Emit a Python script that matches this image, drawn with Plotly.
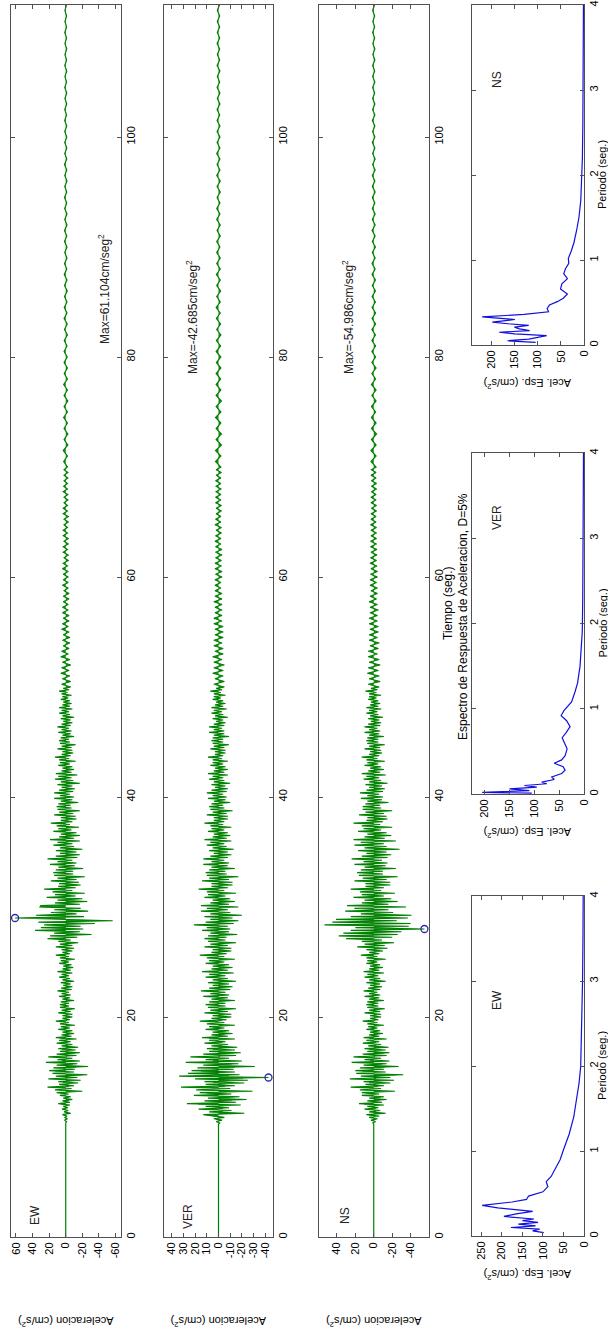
import plotly.graph_objects as go

W, H = 608, 1335

# ---------------- acceleration records (cm/s^2) ----------------
# strong: every 0.125 s from 10.125 s to 50 s (8 values per second)
# mid:    every 0.25 s from 50.25 s to 70 s
# tail:   every 0.5 s from 70.5 s to 112 s
ew_strong = [0, 0, 0, -1, 1.5, -2, 1, -1.5,
             4, -6, 2, -3, 4.5, -2.5, 3, -5,
             9, -5, 4, -8, 3, -6, 7, -3.5,
             11, -20, 13, -7, 22, -10, 8, -15,
             9, -18, 21, -14, 12, -26, 16, -10,
             20, -11, 15, -27, 11, -14, 24, -17,
             10, -8, 21, -13, 11, -17, 7, -12,
             9, -15, 5, -8, 11, -6, 8, -13,
             12, -7, 5, -10, 4, -8, 9, -5,
             6, -11, 7, -4, 12, -5, 4, -8,
             4, -8, 9, -6, 5, -11, 7, -4,
             7, -4, 6, -10, 4, -5, 8, -6,
             5, -4, 10, -7, 5.5, -8, 3, -6,
             6, -10, 4, -5, 8, -4, 5, -8,
             10, -6, 4, -9, 3, -7, 8, -4,
             6, -11, 7, -4, 12, -5, 4, -8,
             5, -10, 12, -8, 7, -15, 9, -6,
             22, -14, 19, -31, 14, -17, 37, -21,
             30, -18, 26, -35, 33, -56.6, -10, 61.104,
             -22, 36, -13, 18, -27, 14, -18, 31,
             30, -17, 13, -26, 10, -20, 23, -12,
             13, -23, 16, -8, 26, -12, 9, -18,
             8, -16, 18, -13, 10, -23, 14, -9,
             15, -9, 12, -21, 9, -11, 19, -13,
             10, -8, 22, -14, 12, -17, 7, -13,
             12, -20, 7, -10, 15, -8, 10, -17,
             19, -10, 8, -17, 6, -13, 15, -7,
             9, -16, 11, -5, 18, -8, 6, -13,
             6, -12, 14, -9, 8, -17, 10, -7,
             11, -6, 9, -15, 6, -8, 14, -10,
             7, -5, 14, -9, 8, -11, 5, -8,
             10, -17, 6, -9, 13, -7, 9, -14,
             12, -7, 5, -10, 4, -8, 9, -5,
             7, -12, 8, -4, 13, -6, 5, -9,
             4, -8, 10, -7, 5, -12, 7, -5,
             8, -4, 6, -10, 4, -6, 9, -7,
             5, -4, 10, -6, 5, -8, 3, -6,
             6, -10, 4, -5, 8, -4, 5, -8,
             8, -5, 4, -7, 3, -5, 6, -3,
             4, -7, 5, -2, 8, -4, 3, -6]
ew_mid = [5, -6, 4, -5, 6, -4, 5, -6, 4, -5, 6, -3, 5, -4, 3, -5, 4, -5, 3, -4,
          5, -3, 4, -4, 3, -4, 4, -3, 4, -3, 3, -4, 3, -4, 2, -3, 4, -3, 3, -3,
          3, -3, 4, -2, 3, -3, 2, -3, 3, -2, 3, -3, 2, -3, 3, -2, 3, -2, 2, -3,
          2, -3, 3, -2, 3, -2, 2, -2.5, 2, -2.5, 3, -2, 2.5, -2, 2, -2.5, 2, -2.5, 2, -2]
ew_tail = [2.5, -2, 3, -2.5, 2, -2.5, 2, -2, 2.5, -2,
           2, -2.5, 2, -2, 2.5, -2, 1.8, -2, 2, -1.8,
           2, -1.5, 1.8, -2, 1.5, -1.8, 2, -1.5, 1.8, -1.5,
           1.5, -1.8, 1.5, -1.5, 1.8, -1.2, 1.5, -1.5, 1.2, -1.5,
           1.5, -1.2, 1.5, -1.5, 1.2, -1.5, 1.3, -1.2, 1.5, -1.2,
           1.2, -1.5, 1.2, -1.2, 1.5, -1.2, 1.2, -1.3, 1.2, -1.2,
           1.2, -1.2, 1.3, -1, 1.2, -1.2, 1, -1.2, 1.2, -1,
           1, -1.2, 1.2, -1, 1, -1.2, 1, -1, 1.2, -1,
           1, -1, 1, -0.8]

ver_strong = [0, 0, -1, 2, -3, 4, -5, 6,
              13, -22, 8, -11, 17, -9, 11, -19,
              27, -15, 12, -24, 9, -18, 21, -11,
              16, -29, 19, -10, 32, -14, 11, -22,
              12, -25, 20, -42.685, 33.6, -18, 26, -14,
              23, -13, 18, -31, 13, -17, 28, -20,
              11, -9, 24, -15, 13, -19, 8, -14,
              10, -16, 6, -8, 12, -6, 8, -14,
              14, -8, 6, -12, 5, -9, 11, -5,
              8, -14, 10, -5, 16, -7, 6, -11,
              5, -11, 12, -8, 7, -15, 9, -6,
              11, -6, 8, -14, 6, -8, 13, -9,
              7, -6, 15, -10, 8, -12, 5, -9,
              9, -15, 5, -8, 11, -6, 8, -13,
              14, -8, 6, -12, 5, -9, 11, -5,
              8, -14, 10, -5, 16, -7, 6, -11,
              5, -11, 12, -8, 7, -15, 9, -6,
              12, -7, 9, -16, 7, -9, 14, -10,
              10, -8, 21, -13, 11, -17, 7, -12,
              12, -20, 7, -10, 15, -8, 10, -17,
              15, -9, 7, -14, 5, -10, 12, -6,
              9, -15, 10, -5, 17, -8, 6, -12,
              6, -12, 14, -9, 8, -17, 10, -7,
              11, -6, 8, -14, 6, -8, 13, -9,
              6, -5, 13, -8, 7, -11, 4, -8,
              8, -13, 5, -7, 10, -5, 7, -11,
              12, -7, 5, -10, 4, -8, 9, -5,
              6, -11, 7, -4, 12, -5, 4, -8,
              4, -8, 10, -7, 5, -12, 7, -5,
              8, -4, 6, -10, 4, -6, 9, -7,
              5, -4, 10, -7, 6, -8, 3, -6,
              6, -10, 4, -5, 8, -4, 5, -8,
              9, -5, 4, -8, 3, -6, 7, -4,
              5, -8, 5, -3, 9, -4, 3, -6,
              3, -6, 7, -5, 4, -9, 5, -4,
              6, -4, 5, -9, 4, -5, 8, -5,
              4, -3, 8, -5, 4, -6, 2, -4,
              5, -8, 3, -4, 6, -3, 4, -7,
              6, -4, 3, -6, 2, -4, 5, -2,
              4, -6, 4, -2, 7, -3, 2, -5]
ver_mid = [4, -5, 3, -4, 5, -4, 4, -5, 4, -3, 5, -4, 3, -4, 4, -3, 4, -4, 3, -4,
           3, -4, 4, -3, 4, -3, 3, -3, 3, -3, 4, -3, 3, -3, 3, -2, 3, -2, 3, -3,
           2.5, -3, 3, -2.5, 3, -2.5, 2.5, -3, 2.5, -3, 2.5, -2, 3, -2, 2.5, -2.5, 2, -2.5, 3, -2,
           2.5, -2, 2, -2.5, 2, -2.5, 2.5, -2, 2.5, -2, 2, -2, 2, -2, 2.5, -2, 2, -2.5, 2, -2]
ver_tail = [2.5, -2, 2.5, -2.5, 2, -2.5, 2, -2, 2.5, -2,
            2, -2.5, 2, -2, 2, -1.8, 2, -2, 1.8, -2,
            2, -1.8, 1.8, -2, 1.5, -1.8, 1.8, -1.5, 2, -1.5,
            1.5, -1.8, 1.5, -1.5, 1.8, -1.5, 1.5, -1.5, 1.5, -1.2,
            1.5, -1.5, 1.2, -1.5, 1.5, -1.2, 1.5, -1.2, 1.2, -1.5,
            1.2, -1.5, 1.5, -1.2, 1.2, -1.2, 1.5, -1.2, 1.2, -1.2,
            1.2, -1.2, 1.2, -1, 1.2, -1.2, 1, -1.2, 1.2, -1,
            1, -1.2, 1.2, -1, 1, -1, 1.2, -1, 1, -1,
            1, -1, 1, -0.8]

ns_strong = [0, 0, 1, -2, 3, -4, 5, -6,
             8, -13, 5, -7, 10, -5, 7, -11,
             16, -9, 7, -14, 5, -11, 13, -6,
             13, -23, 15, -8, 25, -11, 9, -18,
             11, -22, 26, -18, 14, -32, 19, -13,
             20, -11, 15, -27, 11, -14, 24, -17,
             10, -8, 22, -14, 12, -17, 7, -13,
             10, -16, 6, -8, 12, -6, 8, -14,
             11, -6, 5, -10, 4, -7, 8, -4,
             6, -11, 7, -4, 12, -5, 4, -8,
             4, -8, 10, -7, 5, -12, 7, -5,
             8, -5, 7, -11, 5, -6, 10, -7,
             5, -4, 11, -7, 6, -9, 4, -7,
             8, -13, 5, -7, 10, -5, 7, -11,
             11, -6, 5, -10, 4, -7, 8, -4,
             7, -13, 8, -4, 14, -6, 5, -10,
             8, -15, 18, -12, 10, -22, 13, -9,
             30, -20, 38, -26, 33, -30, 25, -54.986,
             20, -38, 53.5, -40, 45, -25, 41, -37,
             25, -41, 14, -21, 31, -16, 21, -35,
             29, -16, 13, -26, 10, -19, 22, -11,
             13, -23, 15, -8, 25, -11, 9, -18,
             9, -18, 21, -14, 12, -26, 16, -10,
             18, -10, 14, -24, 10, -13, 21, -15,
             11, -9, 24, -15, 13, -19, 8, -14,
             17, -28, 10, -14, 21, -11, 14, -24,
             22, -12, 10, -19, 7, -14, 17, -8,
             11, -20, 13, -7, 22, -10, 8, -15,
             7, -14, 16, -11, 9, -20, 12, -8,
             12, -7, 9, -16, 7, -9, 14, -10,
             7, -6, 15, -10, 8, -12, 5, -9,
             9, -15, 5, -8, 11, -6, 8, -13,
             13, -7, 6, -11, 4, -8, 10, -5,
             7, -12, 8, -4, 13, -6, 5, -9,
             4, -8, 10, -7, 5, -12, 7, -5,
             8, -5, 7, -11, 5, -6, 10, -7,
             5, -4, 10, -7, 6, -8, 3, -6,
             6, -10, 4, -5, 8, -4, 5, -8,
             8, -5, 4, -7, 3, -5, 6, -3,
             5, -8, 5, -3, 9, -4, 3, -6]
ns_mid = [6, -7, 5, -6, 7, -5, 6, -7, 5, -6, 6, -4, 6, -5, 4, -6, 5, -4, 5, -5,
          4, -5, 5, -4, 5, -4, 4, -5, 4, -4, 5, -3, 4, -4, 3, -4, 4, -3, 4, -4,
          3.5, -4, 3, -3.5, 4, -3, 3.5, -3.5, 3, -3.5, 3.5, -3, 3.5, -3, 3, -3, 3, -3, 3.5, -2.5,
          3, -2.5, 3, -3, 2.5, -3, 3, -2.5, 3, -2.5, 2.5, -3, 2.5, -3, 2.5, -2.5, 3, -2.5, 2.5, -2.5]
ns_tail = [3, -2.5, 3, -2.5, 2.5, -3, 2.5, -2.5, 2.5, -2,
           2.5, -2.5, 2, -2.5, 2.5, -2, 2, -2.5, 2, -2,
           2, -2, 2, -1.8, 2, -2, 1.8, -2, 1.8, -1.8,
           1.8, -1.8, 1.5, -1.8, 1.8, -1.5, 1.8, -1.5, 1.5, -1.8,
           1.5, -1.5, 1.8, -1.5, 1.5, -1.5, 1.5, -1.2, 1.5, -1.5,
           1.5, -1.2, 1.5, -1.5, 1.2, -1.5, 1.2, -1.2, 1.5, -1.2,
           1.2, -1.2, 1.5, -1.2, 1.2, -1.2, 1.2, -1, 1.2, -1.2,
           1.2, -1, 1.2, -1.2, 1, -1.2, 1, -1, 1.2, -1,
           1, -1, 1.2, -0.8]

# peak values and times
ew_max, ew_tmax = 61.104, 29.0
ver_max, ver_tmax = -42.685, 14.5
ns_max, ns_tmax = -54.986, 28.0

# ---------------- response spectra (cm/s^2 vs period s) ----------------
ew_T = [0.04, 0.06, 0.08, 0.10, 0.12, 0.14, 0.16, 0.18, 0.20, 0.23, 0.26, 0.29, 0.33, 0.36, 0.40, 0.43, 0.47,
        0.52, 0.58, 0.64, 0.70, 0.75, 0.80, 0.90, 1.0, 1.2, 1.4, 1.6, 1.8, 2.0, 2.5, 3.0, 3.5, 4.0]
ew_S = [98, 125, 108, 178, 118, 160, 112, 150, 122, 195, 165, 125, 210, 248, 175, 140, 135,
        100, 88, 92, 80, 75, 68, 58, 51, 36, 25, 18, 12, 8, 5, 3.5, 2.5, 2]
ver_T = [0.01, 0.02, 0.04, 0.06, 0.08, 0.10, 0.12, 0.14, 0.17, 0.20, 0.24, 0.28, 0.32, 0.36, 0.40, 0.45, 0.53,
         0.60, 0.66, 0.72, 0.79, 0.86, 0.92, 0.98, 1.08, 1.2, 1.3, 1.5, 1.7, 1.9, 2.3, 3.0, 4.0]
ver_S = [105, 205, 110, 150, 95, 120, 75, 85, 60, 65, 45, 38, 42, 60, 45, 38, 34,
         40, 44, 36, 28, 35, 46, 40, 25, 18, 13, 8, 5, 3.5, 2.5, 1.5, 1]
ns_T = [0.03, 0.05, 0.07, 0.09, 0.11, 0.13, 0.15, 0.17, 0.19, 0.21, 0.23, 0.25, 0.27, 0.30, 0.33, 0.36, 0.39,
        0.43, 0.47, 0.51, 0.55, 0.60, 0.66, 0.72, 0.78, 0.84, 0.90, 0.96, 1.02, 1.1, 1.2, 1.35, 1.5, 1.7, 1.9,
        2.2, 2.6, 3.0, 3.5, 4.0]
ns_S = [105, 166, 120, 95, 81, 150, 184, 118, 140, 151, 120, 165, 199, 150, 221, 130, 77,
        80, 75, 58, 45, 36, 51, 48, 36, 44, 40, 33, 34, 28, 22, 16, 11, 7, 5,
        3.5, 2.5, 2, 1.5, 1.2]

components = ["EW", "VER", "NS"]
acc_ticks = {"EW": [60, 40, 20, 0, -20, -40, -60],
             "VER": [40, 30, 20, 10, 0, -10, -20, -30, -40],
             "NS": [60, 40, 20, 0, -20, -40, -60]}
time_ticks = [0, 20, 40, 60, 80, 100]
period_ticks = [0, 1, 2, 3, 4]
spec_ticks = {"EW": [0, 50, 100, 150, 200, 250], "VER": [0, 50, 100, 150, 200], "NS": [0, 50, 100, 150, 200]}

# ---------------- layout helpers ----------------
def fx(p):
    return p / W


def fy(p):
    return 1 - p / H


GREEN = "#008000"
BLUE = "#1010e0"
MARK = "#2a2aa8"
FRAME = "#505050"
FONT = "Liberation Sans, Arial, sans-serif"

fig = go.Figure()


def series(strong, mid, tail):
    t = ([0.0, 10.0] + [10.125 + 0.125 * i for i in range(len(strong))]
         + [50.25 + 0.25 * i for i in range(len(mid))] + [70.5 + 0.5 * i for i in range(len(tail))])
    a = [0.0, 0.0] + list(strong) + list(mid) + list(tail)
    return t, a


records = {"EW": (ew_strong, ew_mid, ew_tail, ew_max, ew_tmax),
           "VER": (ver_strong, ver_mid, ver_tail, ver_max, ver_tmax),
           "NS": (ns_strong, ns_mid, ns_tail, ns_max, ns_tmax)}
spectra = {"EW": (ew_T, ew_S), "VER": (ver_T, ver_S), "NS": (ns_T, ns_S)}

ts_x = {"EW": (10.5, 121), "VER": (164, 273), "NS": (318.5, 429)}
ts_y = (5, 1237)
sp_x = (472, 584)
sp_y = {"NS": (5, 345), "VER": (453, 794), "EW": (896, 1236)}

axis_common = dict(showgrid=False, zeroline=False, showline=True, linecolor=FRAME, linewidth=1,
                   mirror="ticks", ticks="inside", ticklen=4, tickcolor=FRAME,
                   tickfont=dict(family=FONT, size=11, color="black"), tickangle=-90,
                   ticklabeloverflow="allow", automargin=False, fixedrange=True)

layout = dict(width=W, height=H, margin=dict(l=0, r=0, t=0, b=0),
              paper_bgcolor="white", plot_bgcolor="white", showlegend=False)

annotations = []

for i, c in enumerate(components):
    n = i + 1
    strong, mid, tail, amax, tmax = records[c]
    t, a = series(strong, mid, tail)
    lim = abs(amax) * 1.09
    fig.add_trace(go.Scatter(x=a, y=t, xaxis=f"x{n}", yaxis=f"y{n}", mode="lines",
                             fill="tozerox", fillcolor="rgba(0,128,0,0.9)",
                             line=dict(color=GREEN, width=1.2), hoverinfo="skip"))
    fig.add_trace(go.Scatter(x=[amax], y=[tmax], xaxis=f"x{n}", yaxis=f"y{n}", mode="markers",
                             marker=dict(symbol="circle-open", size=7, color=MARK, line=dict(width=1.3)),
                             hoverinfo="skip"))
    x0, x1 = ts_x[c]
    layout[f"xaxis{n}"] = dict(axis_common, domain=[fx(x0), fx(x1)], range=[lim, -lim], anchor=f"y{n}",
                               tickmode="array", tickvals=acc_ticks[c],
                               ticktext=[str(v) for v in acc_ticks[c]])
    layout[f"yaxis{n}"] = dict(axis_common, domain=[fy(ts_y[1]), fy(ts_y[0])], range=[0, 112],
                               anchor=f"x{n}", side="right", tickmode="array", tickvals=time_ticks,
                               ticktext=[str(v) for v in time_ticks])
    # spectra
    m = i + 4
    T, S = spectra[c]
    smax = max(S) * 1.1
    fig.add_trace(go.Scatter(x=S, y=T, xaxis=f"x{m}", yaxis=f"y{m}", mode="lines",
                             line=dict(color=BLUE, width=1.2), hoverinfo="skip"))
    y0, y1 = sp_y[c]
    layout[f"xaxis{m}"] = dict(axis_common, domain=[fx(sp_x[0]), fx(sp_x[1])], range=[smax, 0],
                               anchor=f"y{m}", tickmode="array", tickvals=spec_ticks[c],
                               ticktext=[str(v) for v in spec_ticks[c]])
    layout[f"yaxis{m}"] = dict(axis_common, domain=[fy(y1), fy(y0)], range=[0, 4], anchor=f"x{m}",
                               side="right", tickmode="array", tickvals=period_ticks,
                               ticktext=[str(v) for v in period_ticks])


def note(text, px, py, angle=-90, size=12, xa="center", ya="middle", color="#222"):
    annotations.append(dict(text=text, x=fx(px), y=fy(py), xref="paper", yref="paper",
                            showarrow=False, textangle=angle, xanchor=xa, yanchor=ya,
                            font=dict(family=FONT, size=size, color=color)))


# component labels in time series
note("EW", 35, 1215)
note("VER", 188, 1217)
note("NS", 345, 1216)
# max labels
note(f"Max={ew_max:.3f}cm/seg<sup>2</sup>", 104, 346, ya="bottom")
note(f"Max={ver_max:.3f}cm/seg<sup>2</sup>", 192, 376, ya="bottom")
note(f"Max={ns_max:.3f}cm/seg<sup>2</sup>", 348, 376, ya="bottom")
# y titles (upside down)
for c in components:
    x0, x1 = ts_x[c]
    note("Aceleracion (cm/s<sup>2</sup>)", (x0 + x1) / 2, 1322, angle=180, size=11, color="black")
note("Tiempo (seg.)", 448, 603, size=12, color="black")
note("Espectro de Respuesta de Aceleracion, D=5%", 463, 617, size=12, color="black")
# spectra labels
note("EW", 497, 1000)
note("VER", 497, 518)
note("NS", 497, 80)
for c in components:
    y0, y1 = sp_y[c]
    note("Acel. Esp. (cm/s<sup>2</sup>)", (sp_x[0] + sp_x[1]) / 2, y1 + 39, angle=180, size=11, color="black")
    note("Periodo (seg.)", 602, (y0 + y1) / 2, size=11, color="black")

layout["annotations"] = annotations
fig.update_layout(**layout)
# remove the browser's default page margin so the 608x1335 figure fills the window exactly
fig.write_html("out.html", config={"displayModeBar": False},
               post_script="document.body.style.margin='0px';document.body.style.overflow='hidden';")
